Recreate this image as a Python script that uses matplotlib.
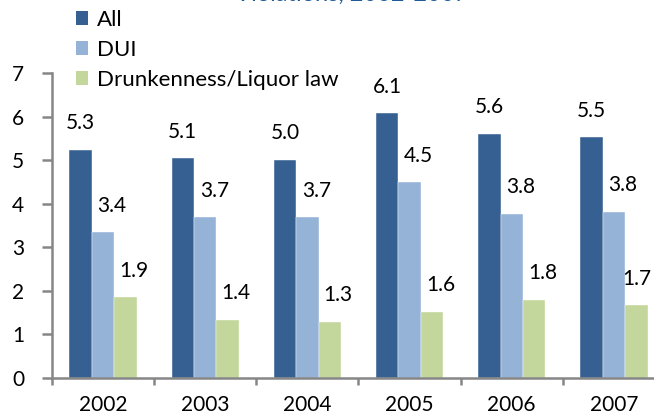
import matplotlib
matplotlib.use("Agg")
import matplotlib.pyplot as plt
import numpy as np
from matplotlib.patches import Patch

plt.rcParams['font.family'] = ['Lato', 'DejaVu Sans']

# Data
years = ["2002", "2003", "2004", "2005", "2006", "2007"]
series_names = ["All", "DUI", "Drunkenness/Liquor law"]
all_vals = [5.24, 5.05, 5.01, 6.08, 5.61, 5.52]
dui_vals = [3.35, 3.69, 3.69, 4.50, 3.77, 3.82]
liquor_vals = [1.85, 1.34, 1.29, 1.52, 1.80, 1.67]
all_labels = ["5.3", "5.1", "5.0", "6.1", "5.6", "5.5"]
dui_labels = ["3.4", "3.7", "3.7", "4.5", "3.8", "3.8"]
liquor_labels = ["1.9", "1.4", "1.3", "1.6", "1.8", "1.7"]

colors = ["#376092", "#95B3D7", "#C3D69B"]
axis_grey = "#868686"

fig = plt.figure(figsize=(6.54, 4.17), dpi=100)
ax = fig.add_axes([52 / 654, 39 / 417, 613 / 654, 305 / 417])

x = np.arange(len(years))
width = 0.22
groups = [(all_vals, all_labels), (dui_vals, dui_labels), (liquor_vals, liquor_labels)]
# labels of the 2nd and 3rd series sit a bit right of their bars
label_dx = [0, 6.5, 6]
for i, (vals, labels) in enumerate(groups):
    pos = x + (i - 1) * width
    ax.bar(pos, vals, width, color=colors[i], edgecolor="white", linewidth=0.3,
           label=series_names[i], zorder=2)
    for j, (px, v, lab) in enumerate(zip(pos, vals, labels)):
        dx = label_dx[i]
        if j == len(years) - 1 and i == 2:
            dx = 0  # keep the last label inside the image
        ax.annotate(lab, (px, v), xytext=(dx, 19), textcoords="offset points",
                    ha="center", va="center", fontsize=15, color="black")

ax.set_xlim(-0.5, len(years) - 0.5)
ax.set_ylim(0, 7)
ax.set_yticks(range(0, 8))
ax.tick_params(axis="y", direction="out", length=7, width=1.8, color=axis_grey,
               pad=13, labelsize=15)

# group separators as major ticks, year labels on minor ticks
ax.set_xticks(np.arange(-0.5, len(years), 1.0))
ax.set_xticklabels([])
ax.set_xticks(x, minor=True)
ax.set_xticklabels(years, minor=True)
ax.tick_params(axis="x", which="major", direction="out", length=5, width=1.8,
               color=axis_grey)
ax.tick_params(axis="x", which="minor", length=0, pad=12, labelsize=15)

for side in ["top", "right"]:
    ax.spines[side].set_visible(False)
for side in ["left", "bottom"]:
    ax.spines[side].set_color(axis_grey)
    ax.spines[side].set_linewidth(1.8)

handles = [Patch(facecolor=c) for c in colors]
fig.legend(handles, series_names, loc="upper left",
           bbox_to_anchor=(76 / 654, 1 - 10 / 417), frameon=False,
           fontsize=16, handlelength=0.55, handleheight=0.55,
           handletextpad=0.4, labelspacing=0.45, borderpad=0, borderaxespad=0)

# title (mostly cut off at the top edge of the image)
fig.text(352 / 654, 1 - 1 / 417, "Violations, 2002-2007", ha="center",
         va="baseline", fontsize=17, color="#1F5A9A")

fig.savefig("out.png", dpi=100)
